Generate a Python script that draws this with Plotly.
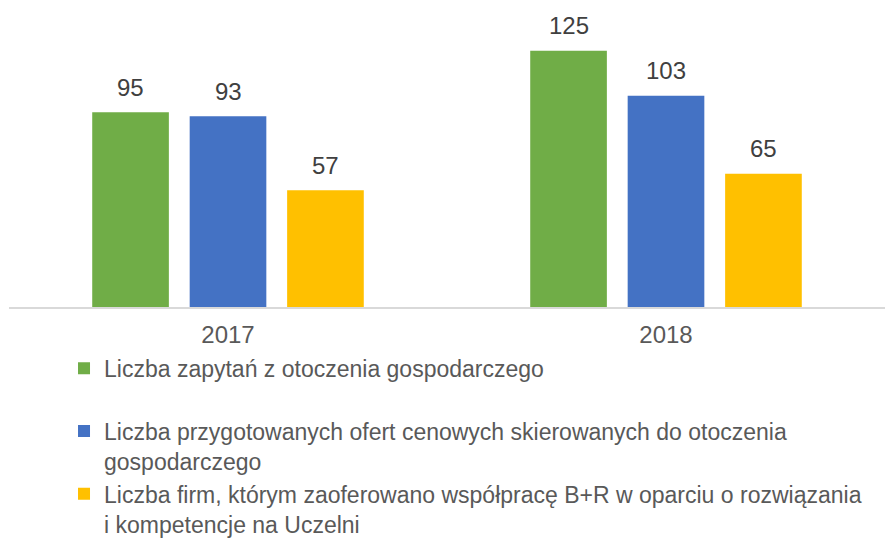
import plotly.graph_objects as go

years = ["2017", "2018"]
series_names = [
    "Liczba zapytań z otoczenia gospodarczego<br> ",
    "Liczba przygotowanych ofert cenowych skierowanych do otoczenia<br>gospodarczego",
    "Liczba firm, którym zaoferowano współpracę B+R w oparciu o rozwiązania<br>i kompetencje na Uczelni",
]
zapytania = [95, 125]
oferty = [93, 103]
firmy = [57, 65]
series_values = [zapytania, oferty, firmy]
colors = ["#70ad47", "#4472c4", "#ffc000"]

bar_w = 0.175
step = 0.2225
font_family = "Liberation Sans, Arial, sans-serif"
text_color = "#595959"

fig = go.Figure()
annotations = []
for j, (name, vals, col) in enumerate(zip(series_names, series_values, colors)):
    off = (j - 1) * step
    xs = [i + off for i in range(len(years))]
    fig.add_trace(go.Bar(
        x=xs, y=vals, name=name, width=bar_w,
        marker=dict(color=col, line=dict(width=0)),
        legendgroup=f"g{j}",
        hoverinfo="skip",
    ))
    for x, v in zip(xs, vals):
        annotations.append(dict(
            x=x, y=v, xref="x", yref="y", text=str(v), showarrow=False,
            yanchor="middle", yshift=25,
            font=dict(size=24, color="#404040", family=font_family),
        ))

fig.update_layout(
    width=890, height=539,
    margin=dict(l=9, r=5, t=20, b=232, autoexpand=False),
    paper_bgcolor="white", plot_bgcolor="white",
    barmode="overlay",
    showlegend=True,
    legend=dict(
        orientation="v", x=0.0628, xanchor="left", y=-0.1385, yanchor="top",
        valign="top",
        font=dict(size=23, color=text_color, family=font_family),
        tracegroupgap=0, itemclick=False, bgcolor="rgba(0,0,0,0)",
    ),
    annotations=annotations,
    font=dict(family=font_family, color=text_color),
)
fig.update_xaxes(
    range=[-0.5, 1.5], tickmode="array", tickvals=list(range(len(years))), ticktext=years,
    showline=True, linecolor="#d9d9d9", linewidth=2, ticks="", showgrid=False, zeroline=False,
    ticklabelstandoff=5,
    tickfont=dict(size=24, color=text_color, family=font_family),
)
fig.update_yaxes(range=[0, 140], visible=False, showgrid=False, zeroline=False)

fig.write_html("out.html", config={"displayModeBar": False},
               post_script="document.body.style.margin='0';")
